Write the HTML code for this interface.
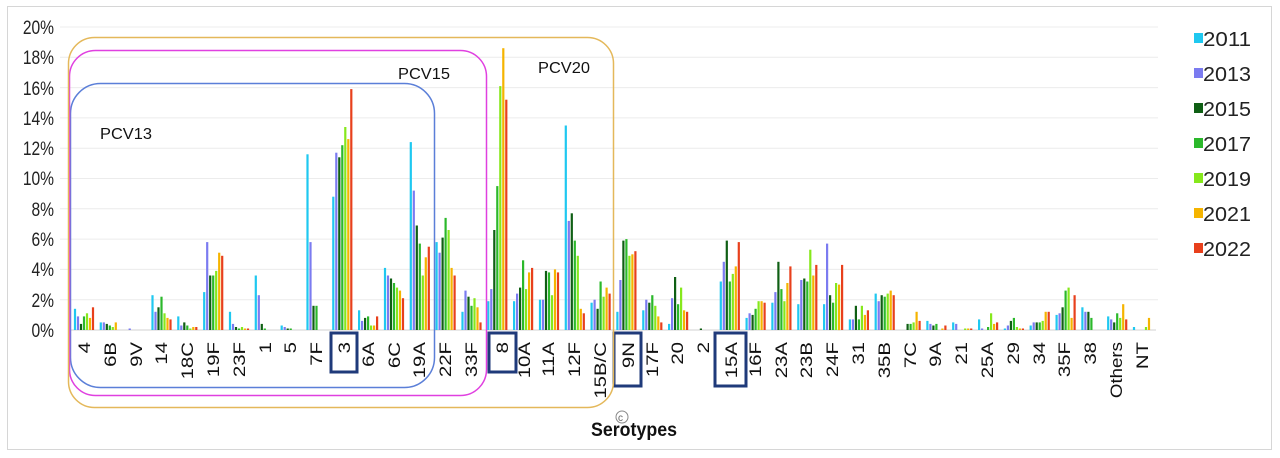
<!DOCTYPE html>
<html><head><meta charset="utf-8"><style>
html,body{margin:0;padding:0;background:#fff;}
svg{display:block;font-family:"Liberation Sans",Arial,sans-serif;}
</style></head><body>
<svg id="s" width="1280" height="458" viewBox="0 0 1280 458" xmlns="http://www.w3.org/2000/svg">
<rect x="7.5" y="6.5" width="1264" height="443" fill="#fff" stroke="#d6d6d6"/>
<g stroke="#ececec" stroke-width="1">
<line x1="60" x2="1158" y1="27" y2="27"/><line x1="60" x2="1158" y1="57.3" y2="57.3"/><line x1="60" x2="1158" y1="87.6" y2="87.6"/><line x1="60" x2="1158" y1="117.9" y2="117.9"/><line x1="60" x2="1158" y1="148.2" y2="148.2"/><line x1="60" x2="1158" y1="178.5" y2="178.5"/><line x1="60" x2="1158" y1="208.8" y2="208.8"/><line x1="60" x2="1158" y1="239.1" y2="239.1"/><line x1="60" x2="1158" y1="269.4" y2="269.4"/><line x1="60" x2="1158" y1="299.7" y2="299.7"/>
</g>
<line x1="70" x2="1156" y1="330" y2="330" stroke="#d0d0d0"/>
<g font-size="19" fill="#222" text-anchor="end" transform="translate(54,0) scale(0.82,1) translate(-54,0)">
<text x="54" y="34">20%</text><text x="54" y="64">18%</text><text x="54" y="95">16%</text><text x="54" y="125">14%</text><text x="54" y="155">12%</text><text x="54" y="185">10%</text><text x="54" y="216">8%</text><text x="54" y="246">6%</text><text x="54" y="276">4%</text><text x="54" y="307">2%</text><text x="54" y="337">0%</text>
</g>
<g id="bars"></g>
<g font-size="17" fill="#111" text-anchor="end">
<text transform="translate(90,342) rotate(-90) scale(1.2,1)">4</text>
<text transform="translate(116,342) rotate(-90) scale(1.2,1)">6B</text>
<text transform="translate(142,342) rotate(-90) scale(1.2,1)">9V</text>
<text transform="translate(167,342) rotate(-90) scale(1.2,1)">14</text>
<text transform="translate(193,342) rotate(-90) scale(1.2,1)">18C</text>
<text transform="translate(219,342) rotate(-90) scale(1.2,1)">19F</text>
<text transform="translate(245,342) rotate(-90) scale(1.2,1)">23F</text>
<text transform="translate(271,342) rotate(-90) scale(1.2,1)">1</text>
<text transform="translate(296,342) rotate(-90) scale(1.2,1)">5</text>
<text transform="translate(322,342) rotate(-90) scale(1.2,1)">7F</text>
<text transform="translate(350,342) rotate(-90) scale(1.2,1)">3</text>
<text transform="translate(374,342) rotate(-90) scale(1.2,1)">6A</text>
<text transform="translate(400,342) rotate(-90) scale(1.2,1)">6C</text>
<text transform="translate(425,342) rotate(-90) scale(1.2,1)">19A</text>
<text transform="translate(451,342) rotate(-90) scale(1.2,1)">22F</text>
<text transform="translate(477,342) rotate(-90) scale(1.2,1)">33F</text>
<text transform="translate(508,342) rotate(-90) scale(1.2,1)">8</text>
<text transform="translate(530,342) rotate(-90) scale(1.2,1)">10A</text>
<text transform="translate(554,342) rotate(-90) scale(1.2,1)">11A</text>
<text transform="translate(580,342) rotate(-90) scale(1.2,1)">12F</text>
<text transform="translate(606,342) rotate(-90) scale(1.2,1)">15B/C</text>
<text transform="translate(634,342) rotate(-90) scale(1.2,1)">9N</text>
<text transform="translate(658,342) rotate(-90) scale(1.2,1)">17F</text>
<text transform="translate(683,342) rotate(-90) scale(1.2,1)">20</text>
<text transform="translate(709,342) rotate(-90) scale(1.2,1)">2</text>
<text transform="translate(737,342) rotate(-90) scale(1.2,1)">15A</text>
<text transform="translate(761,342) rotate(-90) scale(1.2,1)">16F</text>
<text transform="translate(787,342) rotate(-90) scale(1.2,1)">23A</text>
<text transform="translate(812,342) rotate(-90) scale(1.2,1)">23B</text>
<text transform="translate(838,342) rotate(-90) scale(1.2,1)">24F</text>
<text transform="translate(864,342) rotate(-90) scale(1.2,1)">31</text>
<text transform="translate(890,342) rotate(-90) scale(1.2,1)">35B</text>
<text transform="translate(916,342) rotate(-90) scale(1.2,1)">7C</text>
<text transform="translate(941,342) rotate(-90) scale(1.2,1)">9A</text>
<text transform="translate(967,342) rotate(-90) scale(1.2,1)">21</text>
<text transform="translate(993,342) rotate(-90) scale(1.2,1)">25A</text>
<text transform="translate(1019,342) rotate(-90) scale(1.2,1)">29</text>
<text transform="translate(1045,342) rotate(-90) scale(1.2,1)">34</text>
<text transform="translate(1070,342) rotate(-90) scale(1.2,1)">35F</text>
<text transform="translate(1096,342) rotate(-90) scale(1.2,1)">38</text>
<text transform="translate(1122,342) rotate(-90) scale(1.1,1)">Others</text>
<text transform="translate(1148,342) rotate(-90) scale(1.2,1)">NT</text>
</g>
<g fill="none" stroke="#1f3a7a" stroke-width="3">
<rect x="331" y="333" width="26" height="39"/>
<rect x="489" y="333" width="27" height="39"/>
<rect x="614" y="333" width="27" height="53"/>
<rect x="715" y="333" width="31" height="53"/>
</g>
<rect x="70.5" y="83.5" width="364" height="304" rx="30" fill="none" stroke="#5b7fd8" stroke-width="1.5"/>
<rect x="69.5" y="50.5" width="417" height="345" rx="26" fill="none" stroke="#e040e0" stroke-width="1.5"/>
<rect x="68.5" y="37.5" width="545" height="370" rx="26" fill="none" stroke="#e4b85a" stroke-width="1.5"/>
<g font-size="16" fill="#111">
<text x="100" y="139" textLength="52" lengthAdjust="spacingAndGlyphs">PCV13</text>
<text x="398" y="79" textLength="52" lengthAdjust="spacingAndGlyphs">PCV15</text>
<text x="538" y="73" textLength="52" lengthAdjust="spacingAndGlyphs">PCV20</text>
</g>
<text x="591" y="436" font-size="19" font-weight="bold" fill="#111" textLength="86" lengthAdjust="spacingAndGlyphs">Serotypes</text>
<circle cx="622" cy="417" r="6" fill="#fff" stroke="#888" stroke-width="1"/>
<text x="618" y="421" font-size="10" fill="#666">c</text>
<g font-size="20" fill="#222">
<rect x="1194" y="33" width="9" height="10" fill="#1fc8f0"/><text x="1203" y="46" textLength="48" lengthAdjust="spacingAndGlyphs">2011</text>
<rect x="1194" y="68" width="9" height="10" fill="#7b7bf0"/><text x="1203" y="81" textLength="48" lengthAdjust="spacingAndGlyphs">2013</text>
<rect x="1194" y="103" width="9" height="10" fill="#0f5f14"/><text x="1203" y="116" textLength="48" lengthAdjust="spacingAndGlyphs">2015</text>
<rect x="1194" y="138" width="9" height="10" fill="#2bb82b"/><text x="1203" y="151" textLength="48" lengthAdjust="spacingAndGlyphs">2017</text>
<rect x="1194" y="173" width="9" height="10" fill="#86e81c"/><text x="1203" y="186" textLength="48" lengthAdjust="spacingAndGlyphs">2019</text>
<rect x="1194" y="208" width="9" height="10" fill="#f5b400"/><text x="1203" y="221" textLength="48" lengthAdjust="spacingAndGlyphs">2021</text>
<rect x="1194" y="243" width="9" height="10" fill="#e8401c"/><text x="1203" y="256" textLength="48" lengthAdjust="spacingAndGlyphs">2022</text>
</g>
</svg>
<script>
var d=[[1.4,0.9,0.4,0.9,1.1,0.8,1.5],[0.5,0.5,0.4,0.3,0.2,0.5,0],[0,0.1,0,0,0,0,0],[2.3,1.2,1.5,2.2,1.1,0.8,0.7],[0.9,0.3,0.5,0.3,0.1,0.2,0.2],[2.5,5.8,3.6,3.6,3.9,5.1,4.9],[1.2,0.4,0.2,0.1,0.2,0.1,0.1],[3.6,2.3,0.4,0.1,0,0,0],[0.3,0.2,0.1,0.1,0,0,0],[11.6,5.8,1.6,1.6,0,0,0],[8.8,11.7,11.4,12.2,13.4,12.6,15.9],[1.3,0.6,0.8,0.9,0.3,0.3,0.9],[4.1,3.6,3.4,3.1,2.8,2.6,2.1],[12.4,9.2,6.9,5.7,3.6,4.8,5.5],[5.8,5.1,6.1,7.4,6.6,4.1,3.6],[1.2,2.6,2.2,1.6,2.1,1.5,0.5],[1.9,2.7,6.6,9.5,16.1,18.6,15.2],[1.9,2.4,2.8,4.6,2.7,3.8,4.1],[2.0,2.0,3.9,3.8,2.3,4.0,3.8],[13.5,7.2,7.7,5.9,4.9,1.4,1.1],[1.8,2.0,1.4,3.2,2.2,2.8,2.4],[1.2,3.3,5.9,6.0,4.9,5.0,5.2],[1.3,2.0,1.8,2.3,1.6,0.9,0.5],[0.4,2.1,3.5,1.7,2.8,1.3,1.2],[0,0,0.1,0,0,0,0],[3.2,4.5,5.9,3.2,3.7,4.2,5.8],[0.8,1.1,1.0,1.4,1.9,1.9,1.8],[1.8,2.5,4.5,2.7,1.9,3.1,4.2],[1.7,3.3,3.4,3.2,5.3,3.6,4.3],[1.7,5.7,2.3,1.8,3.1,3.0,4.3],[0.7,0.7,1.6,0.7,1.6,1.0,1.3],[2.4,1.9,2.3,2.2,2.4,2.6,2.3],[0,0,0.4,0.4,0.5,1.2,0.6],[0.6,0.4,0.3,0.4,0,0.1,0.3],[0.5,0.4,0,0,0.1,0.1,0.1],[0.7,0.1,0,0.2,1.1,0.4,0.5],[0.1,0.3,0.6,0.8,0.2,0.1,0.1],[0.3,0.5,0.5,0.5,0.6,1.2,1.2],[1.0,1.1,1.5,2.6,2.8,0.8,2.3],[1.5,1.2,1.2,0.8,0,0,0],[0.9,0.7,0.5,1.1,0.8,1.7,0.7],[0.2,0,0,0,0.2,0.8,0]];
var c=["#1fc8f0","#7b7bf0","#0f5f14","#2bb82b","#86e81c","#f5b400","#e8401c"];
var g=document.getElementById("bars"),h="";
for(var i=0;i<d.length;i++){var cx=71+25.83*(i+0.5);for(var j=0;j<7;j++){var v=d[i][j];if(v<=0)continue;var hh=v*15.15;var x=cx-10+j*3;h+='<rect x="'+x.toFixed(1)+'" y="'+(330-hh).toFixed(1)+'" width="2.2" height="'+hh.toFixed(1)+'" fill="'+c[j]+'"/>';}}
g.innerHTML=h;
</script>
</body></html>
